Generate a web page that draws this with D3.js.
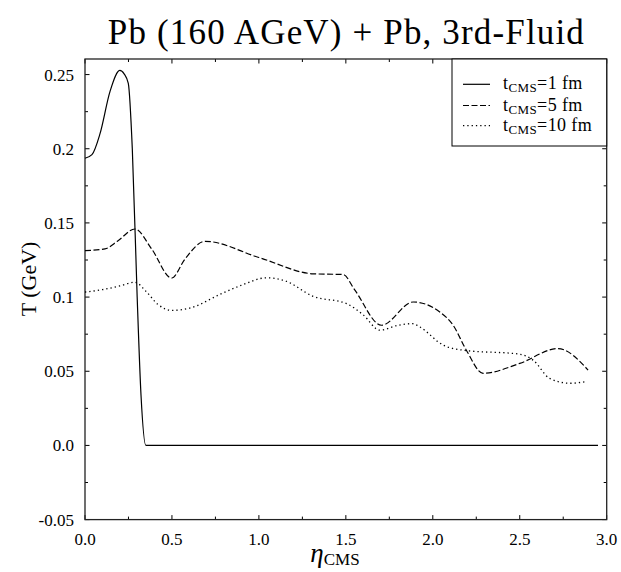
<!DOCTYPE html>
<html><head><meta charset="utf-8">
<script src="https://cdn.jsdelivr.net/npm/d3@7"></script>
<style>body{margin:0;background:#fff} svg{display:block}</style>
</head><body>
<svg id="chart" width="621" height="572"></svg>
<script>
const titleText = "Pb (160 AGeV) + Pb, 3rd-Fluid";
const xLabelMain = "η";
const xLabelSub = "CMS";
const yLabelText = "T (GeV)";
const xTickValues = [0, 0.5, 1, 1.5, 2, 2.5, 3];
const xTickLabels = ["0.0", "0.5", "1.0", "1.5", "2.0", "2.5", "3.0"];
const yTickValues = [-0.05, 0, 0.05, 0.1, 0.15, 0.2, 0.25];
const yTickLabels = ["-0.05", "0.0", "0.05", "0.1", "0.15", "0.2", "0.25"];
const legendTimes = ["1 fm", "5 fm", "10 fm"];

// t_CMS = 1 fm (solid)
const eta1 = [0, 0.04, 0.086, 0.144, 0.2, 0.225, 0.249, 0.272, 0.30, 0.322, 0.35, 2.95];
const T1   = [0.1936, 0.196, 0.21, 0.2387, 0.2528, 0.2505, 0.244, 0.2, 0.1, 0.034, 0.0, 0.0];
// t_CMS = 5 fm (dashed)
const eta5 = [0, 0.115, 0.19, 0.287, 0.383, 0.498, 0.575, 0.69, 1.0, 1.312, 1.485, 1.55, 1.705, 1.887, 2.04, 2.117, 2.193, 2.289, 2.5, 2.72, 2.893];
const T5   = [0.1313, 0.1325, 0.138, 0.1459, 0.1325, 0.1128, 0.1257, 0.1376, 0.1267, 0.1157, 0.1152, 0.105, 0.081, 0.0967, 0.09, 0.081, 0.0642, 0.0486, 0.0553, 0.0653, 0.0508];
// t_CMS = 10 fm (dotted)
const eta10 = [0, 0.1, 0.2, 0.287, 0.35, 0.42, 0.498, 0.6, 0.785, 0.9, 1.044, 1.15, 1.312, 1.504, 1.6, 1.695, 1.8, 1.883, 1.925, 2.06, 2.175, 2.5, 2.577, 2.672, 2.787, 2.883];
const T10   = [0.1034, 0.105, 0.1075, 0.110, 0.104, 0.095, 0.091, 0.0925, 0.1023, 0.108, 0.113, 0.111, 0.1005, 0.0956, 0.088, 0.0777, 0.081, 0.0821, 0.0799, 0.0676, 0.0642, 0.0615, 0.0575, 0.0452, 0.0419, 0.043];

const FONT = "'Liberation Serif', 'DejaVu Serif', serif";
const svg = d3.select("#chart");
const L = 85, R = 606.7, T = 59, B = 519.6;
const x = d3.scaleLinear().domain([0, 3]).range([L, R]);
const y = d3.scaleLinear().domain([-0.05, 0.2605]).range([B, T]);

// ticks (inward on all four sides)
const xMinor = d3.range(0, 3.001, 0.25);
const yMinor = d3.range(-0.05, 0.2601, 0.025);
const tg = svg.append("g").attr("stroke", "#000").attr("stroke-width", 1);
xMinor.forEach(v => {
  const major = Math.abs(v / 0.5 - Math.round(v / 0.5)) < 1e-6;
  const len = major ? 4.5 : 3;
  tg.append("line").attr("x1", x(v)).attr("x2", x(v)).attr("y1", B).attr("y2", B - len);
  tg.append("line").attr("x1", x(v)).attr("x2", x(v)).attr("y1", T).attr("y2", T + len);
});
yMinor.forEach(v => {
  const major = Math.abs(v / 0.05 - Math.round(v / 0.05)) < 1e-6;
  const len = major ? 4.5 : 3;
  tg.append("line").attr("y1", y(v)).attr("y2", y(v)).attr("x1", L).attr("x2", L + len);
  tg.append("line").attr("y1", y(v)).attr("y2", y(v)).attr("x1", R).attr("x2", R - len);
});

// frame
svg.append("rect").attr("x", L).attr("y", T).attr("width", R - L).attr("height", B - T)
  .attr("fill", "none").attr("stroke", "#222").attr("stroke-width", 1.3);

// tick labels
svg.append("g").selectAll("text").data(xTickValues).join("text")
  .attr("x", d => x(d)).attr("y", 545).attr("text-anchor", "middle")
  .attr("font-family", FONT).attr("font-size", 17)
  .text((d, i) => xTickLabels[i]);
svg.append("g").selectAll("text").data(yTickValues).join("text")
  .attr("x", 74).attr("y", d => y(d) + 6).attr("text-anchor", "end")
  .attr("font-family", FONT).attr("font-size", 17)
  .text((d, i) => yTickLabels[i]);

// curves
function mk(ex, tv) { return ex.map((e, i) => [e, tv[i]]); }
const line = d3.line().x(d => x(d[0])).y(d => y(d[1])).curve(d3.curveMonotoneX);
svg.append("path").attr("d", line(mk(eta1, T1))).attr("fill", "none")
  .attr("stroke", "#000").attr("stroke-width", 1.2);
svg.append("path").attr("d", line(mk(eta5, T5))).attr("fill", "none")
  .attr("stroke", "#000").attr("stroke-width", 1.2).attr("stroke-dasharray", "6,2.5");
svg.append("path").attr("d", line(mk(eta10, T10))).attr("fill", "none")
  .attr("stroke", "#000").attr("stroke-width", 1.3).attr("stroke-dasharray", "1.3,3");

// title: fixed size, spread to the reference width
const title = svg.append("text").attr("x", (L + R) / 2).attr("y", 44).attr("text-anchor", "middle")
  .attr("font-family", FONT).attr("font-size", 35).text(titleText);
const tw = title.node().getComputedTextLength();
const ls = (476 - tw) / (titleText.length - 1);
title.attr("letter-spacing", ls).attr("x", (L + R) / 2 + ls / 2);

// y label
svg.append("text").attr("transform", "translate(36,279) rotate(-90)").attr("text-anchor", "middle")
  .attr("font-family", FONT).attr("font-size", 22).text(yLabelText);

// x label
const xl = svg.append("text").attr("x", 335).attr("y", 562).attr("text-anchor", "middle")
  .attr("font-family", FONT);
xl.append("tspan").attr("font-size", 27).attr("font-style", "italic").text(xLabelMain);
xl.append("tspan").attr("font-size", 17).attr("dy", 3).text(xLabelSub);

// legend
const lg = svg.append("g");
lg.append("rect").attr("x", 452).attr("y", T).attr("width", R - 452).attr("height", 146 - T)
  .attr("fill", "#fff").attr("stroke", "#000").attr("stroke-width", 1);
const dashes = [null, "6,2.5", "1.3,3"];
const rowY = [84.3, 105.5, 125.7];
legendTimes.forEach((lab, i) => {
  const l = lg.append("line").attr("x1", 463).attr("x2", 490).attr("y1", rowY[i]).attr("y2", rowY[i])
    .attr("stroke", "#000").attr("stroke-width", 1.2);
  if (dashes[i]) l.attr("stroke-dasharray", dashes[i]);
  const t = lg.append("text").attr("x", 503).attr("y", rowY[i] + 5).attr("font-family", FONT)
    .attr("font-size", 18).attr("letter-spacing", 0.4);
  t.append("tspan").text("t");
  t.append("tspan").attr("font-size", 13).attr("dy", 3).text("CMS");
  t.append("tspan").attr("dy", -3).text("=" + lab);
});
</script>
</body></html>
